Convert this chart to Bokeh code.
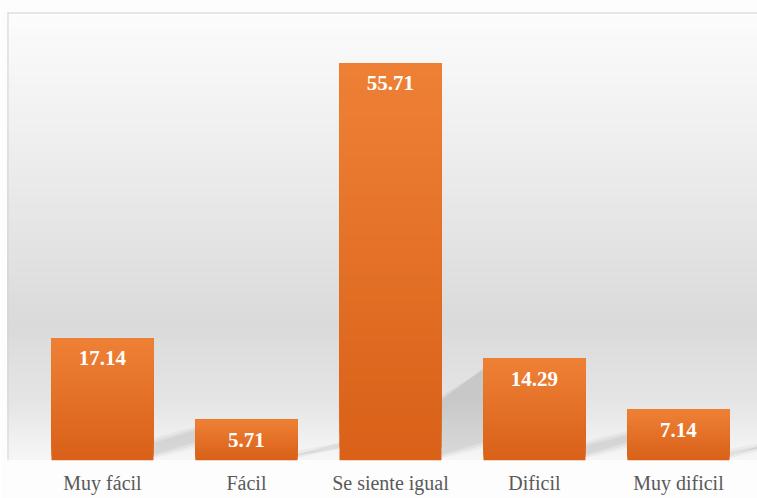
from bokeh.plotting import figure
from bokeh.models import Range1d, FixedTicker, Span, ColumnDataSource
from bokeh.core.properties import value
from bokeh.embed import file_html
from bokeh.resources import INLINE

# ---- data ----
categories = ["Muy fácil", "Fácil", "Se siente igual", "Dificil", "Muy dificil"]
values = [17.14, 5.71, 55.71, 14.29, 7.14]
value_labels = ["17.14", "5.71", "55.71", "14.29", "7.14"]

xs = list(range(len(categories)))
BAR_W = 0.708
X0, X1 = -0.6597, 4.549
Y0, Y1 = 0.0, 62.83
SERIF = "'Liberation Serif', serif"


def hexgray(g):
    g = int(round(g))
    return "#%02x%02x%02x" % (g, g, g)


def lerp(a, b, t):
    return a + (b - a) * t


p = figure(width=757, height=498, output_backend="svg", toolbar_location=None,
           x_range=Range1d(X0, X1), y_range=Range1d(Y0, Y1),
           y_axis_location=None, x_axis_location="below",
           min_border_left=7, min_border_right=0, min_border_top=12,
           min_border_bottom=38)
p.xgrid.visible = False
p.ygrid.visible = False
p.outline_line_color = None
p.border_fill_color = "#fdfdfd"
p.background_fill_color = "#ffffff"

# ---- background vertical gradient (decorative) ----
stops = [(0.0, 247), (8.0, 229), (19.0, 218), (44.0, 238), (62.83, 252)]


def bg_gray(y):
    for (ya, ga), (yb, gb) in zip(stops[:-1], stops[1:]):
        if ya <= y <= yb:
            return lerp(ga, gb, (y - ya) / (yb - ya))
    return stops[-1][1]


NB = 120
bg_b = [Y0 + (Y1 - Y0) * k / NB for k in range(NB)]
bg_c = [hexgray(bg_gray(b + (Y1 - Y0) / NB / 2)) for b in bg_b]
p.quad(left=[X0] * NB, right=[X1] * NB, bottom=bg_b, top=[Y1] * NB,
       fill_color=bg_c, line_color=None)

# ---- soft diagonal shadows ----
for i, v in zip(xs, values):
    xr = i + BAR_W / 2
    for shrink, alpha in [(0.0, 0.035), (0.06, 0.04), (0.12, 0.045)]:
        sx = [xr - 0.02, xr + 0.42 - shrink, xr + 0.42 - shrink, xr - 0.02]
        sy = [0.2 + shrink * 4, 2.4 + shrink * 2,
              0.23 * v + 1.5 - shrink * 10, 0.15 * v + 0.5 - shrink * 6]
        p.patch(sx, sy, fill_color="black", fill_alpha=alpha, line_color=None)

# ---- gradient bars ----
top_c = (238, 129, 54)
bot_c = (217, 96, 24)
M = 30
lefts, rights, bottoms, tops, cols = [], [], [], [], []
for i, v in zip(xs, values):
    for k in range(M):
        t = (k + 0.5) / M
        c = tuple(int(round(lerp(bot_c[j], top_c[j], t))) for j in range(3))
        lefts.append(i - BAR_W / 2)
        rights.append(i + BAR_W / 2)
        bottoms.append(v * k / M)
        tops.append(v)
        cols.append("#%02x%02x%02x" % c)
p.quad(left=lefts, right=rights, bottom=bottoms, top=tops,
       fill_color=cols, line_color=None)

# ---- value labels ----
src = ColumnDataSource(dict(x=xs, y=values, t=value_labels))
p.text(x="x", y="y", text="t", source=src, text_color="white",
       text_font=value(SERIF), text_font_style="bold",
       text_font_size="21px", text_align="center", text_baseline="middle",
       y_offset=20)

# ---- category axis ----
ax = p.xaxis[0]
ax.ticker = FixedTicker(ticks=xs)
ax.major_label_overrides = {i: c for i, c in zip(xs, categories)}
ax.axis_line_color = None
ax.major_tick_line_color = None
ax.minor_tick_line_color = None
ax.major_tick_out = 0
ax.major_tick_in = 0
ax.major_label_standoff = 11
ax.major_label_text_font = SERIF
ax.major_label_text_font_size = "20px"
ax.major_label_text_color = "#595959"

# ---- chart border (left & top) ----
p.add_layout(Span(location=X0, dimension="height", line_color="#d4d4d4", line_width=2))
p.add_layout(Span(location=Y1, dimension="width", line_color="#d4d4d4", line_width=2))

open("out.html", "w").write(file_html(p, INLINE))
